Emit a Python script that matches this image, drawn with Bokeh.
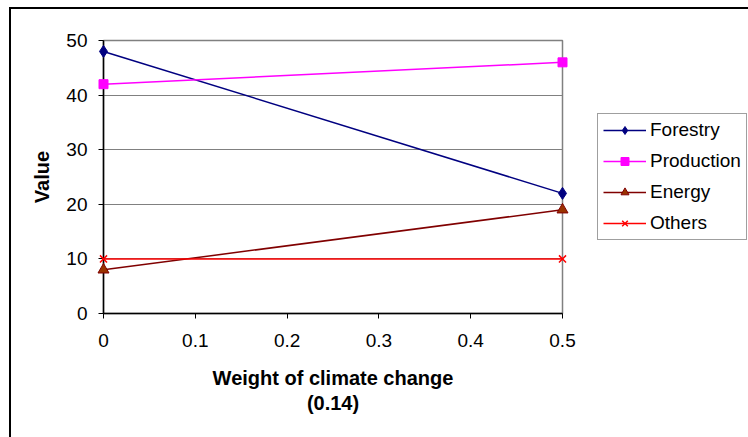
from bokeh.plotting import figure
from bokeh.models import Legend, LegendItem, Range1d, FixedTicker
from bokeh.embed import file_html
from bokeh.resources import INLINE

weights = [0, 0.5]
forestry = [48, 22]
production = [42, 46]
energy = [8, 19]
others = [10, 10]
x_ticks = [0, 0.1, 0.2, 0.3, 0.4, 0.5]
y_ticks = [0, 10, 20, 30, 40, 50]

FONT = "Liberation Sans"

p = figure(frame_width=459, frame_height=273, output_backend="svg", toolbar_location=None,
           x_range=Range1d(0, 0.5), y_range=Range1d(0, 50),
           min_border_left=92, min_border_right=188, min_border_top=31, min_border_bottom=124)
p.styles = {"margin-left": "9px", "margin-top": "7px",
            "border-left": "2px solid black", "border-top": "2px solid black"}

p.outline_line_color = "#808080"
p.outline_line_width = 1.5
p.xgrid.visible = False
p.ygrid.grid_line_color = "#808080"
p.ygrid.grid_line_width = 1.2

p.xaxis.ticker = FixedTicker(ticks=x_ticks)
p.yaxis.ticker = FixedTicker(ticks=y_ticks)
p.xaxis.major_label_overrides = {0: "0"}
for ax in (p.xaxis, p.yaxis):
    ax.axis_line_color = "black"
    ax.axis_line_width = 1.5
    ax.major_tick_line_color = "black"
    ax.major_tick_out = 5
    ax.major_tick_in = 0
    ax.minor_tick_line_color = None
    ax.major_label_text_font = FONT
    ax.major_label_text_font_size = "19px"
    ax.major_label_text_color = "black"
    ax.axis_label_text_font = FONT
    ax.axis_label_text_font_size = "20px"
    ax.axis_label_text_font_style = "bold"
    ax.axis_label_text_color = "black"
    ax.axis_label_text_line_height = 1.15

p.xaxis.major_label_standoff = 15
p.yaxis.major_label_standoff = 11
p.xaxis.axis_label = "Weight of climate change\n(0.14)"
p.xaxis.axis_label_standoff = 17
p.yaxis.axis_label = "Value"
p.yaxis.axis_label_standoff = 10

lw = 1.5
r1l = p.line(weights, forestry, line_color="#000080", line_width=lw)
r1m = p.scatter(weights, forestry, marker="diamond", size=12, color="#000080")
r2l = p.line(weights, production, line_color="#FF00FF", line_width=lw)
r2m = p.scatter(weights, production, marker="square", size=9, color="#FF00FF")
r3l = p.line(weights, energy, line_color="#800000", line_width=lw)
r3m = p.scatter(weights, energy, marker="triangle", size=11, color="#993300", line_color="#800000")
r4l = p.line(weights, others, line_color="#FF0000", line_width=lw)
r4m = p.scatter(weights, others, marker="x", size=10, line_color="#FF0000", line_width=1.5)
for r in (r1m, r2m, r3m, r4m):
    r.level = "overlay"

legend = Legend(items=[
    LegendItem(label="Forestry", renderers=[r1l, r1m]),
    LegendItem(label="Production", renderers=[r2l, r2m]),
    LegendItem(label="Energy", renderers=[r3l, r3m]),
    LegendItem(label="Others", renderers=[r4l, r4m]),
], location=(35, 73))
legend.label_text_font = FONT
legend.label_text_font_size = "19px"
legend.label_text_color = "black"
legend.glyph_width = 43
legend.glyph_height = 20
legend.spacing = 9
legend.padding = 5
legend.margin = 0
legend.label_standoff = 4
legend.border_line_color = "#404040"
legend.border_line_width = 1.2
p.add_layout(legend, "right")

open("out.html", "w").write(file_html(p, INLINE))
